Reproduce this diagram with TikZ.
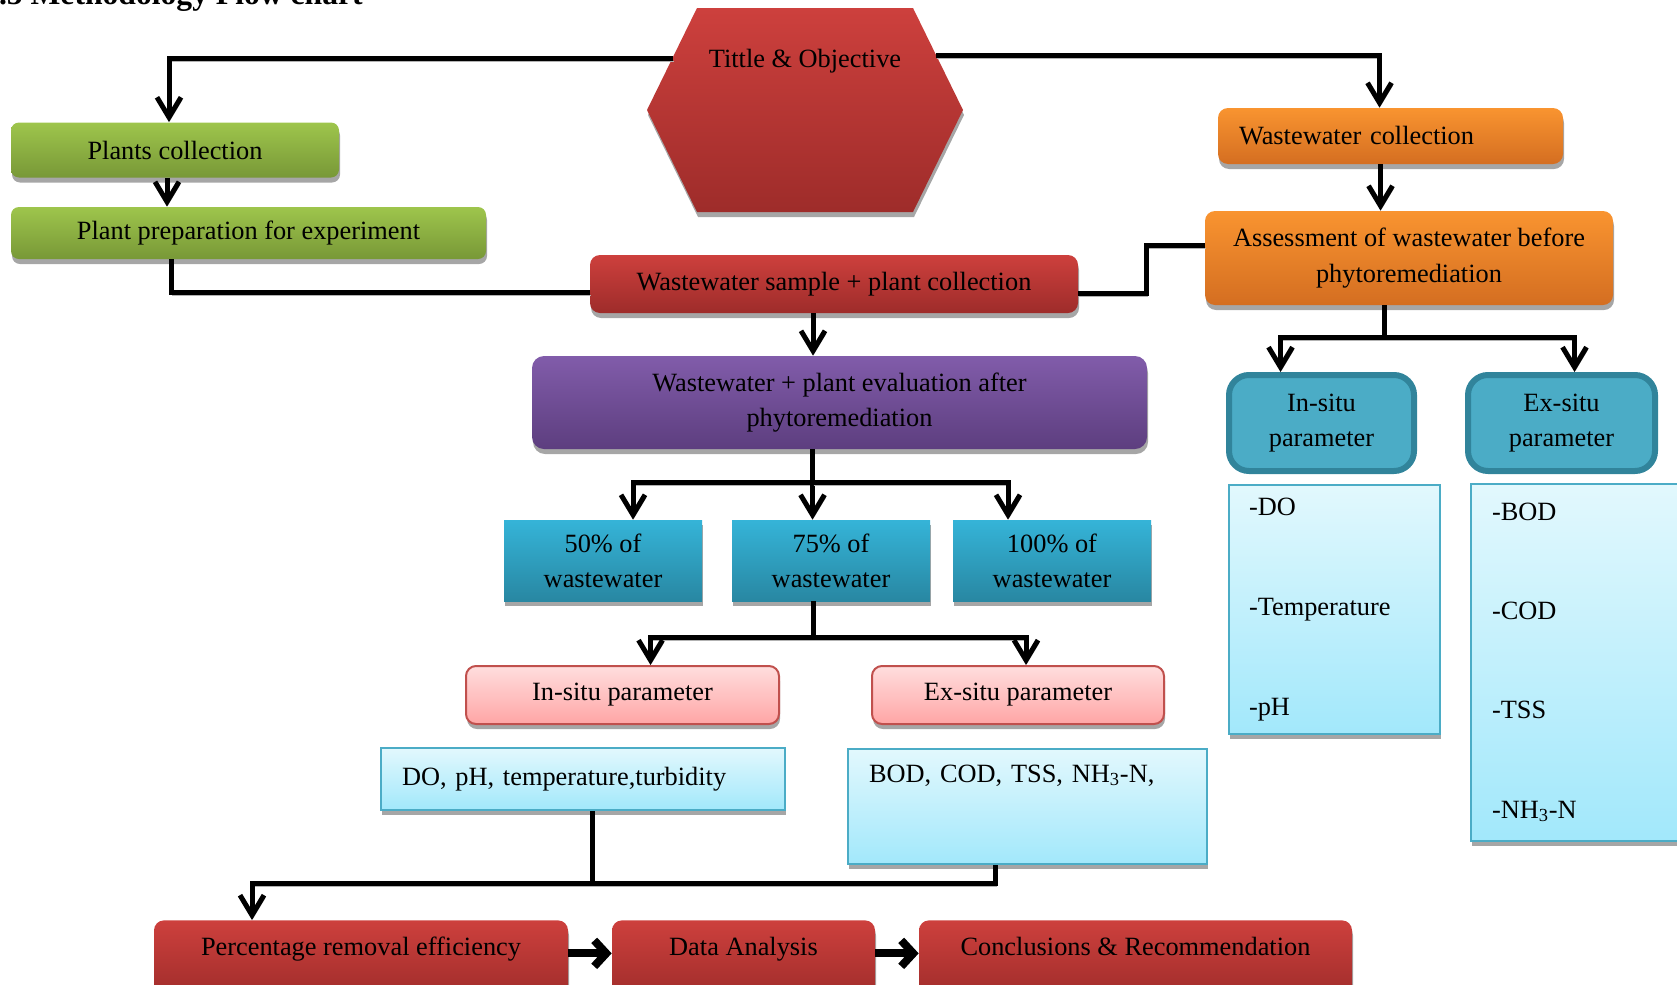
\documentclass[tikz,border=0pt]{standalone}
\usepackage{fontspec}
\setmainfont{Liberation Serif}
\usetikzlibrary{arrows.meta,shadows}

\newlength{\pxu}
\setlength{\pxu}{0.02cm}

\definecolor{grtop}{RGB}{158,197,76}
\definecolor{grbot}{RGB}{120,152,55}
\definecolor{redtop}{RGB}{205,64,61}
\definecolor{redbot}{RGB}{158,44,42}
\definecolor{ortop}{RGB}{249,148,48}
\definecolor{orbot}{RGB}{212,110,33}
\definecolor{putop}{RGB}{129,92,170}
\definecolor{pubot}{RGB}{93,62,127}
\definecolor{tetop}{RGB}{53,180,216}
\definecolor{tebot}{RGB}{40,135,162}
\definecolor{parfill}{RGB}{75,172,198}
\definecolor{parline}{RGB}{49,132,155}
\definecolor{pitop}{RGB}{255,222,222}
\definecolor{pibot}{RGB}{255,165,165}
\definecolor{piline}{RGB}{192,80,77}
\definecolor{lctop}{RGB}{226,248,253}
\definecolor{lcbot}{RGB}{162,232,251}
\definecolor{lcline}{RGB}{75,172,198}

\tikzset{
  txt/.style={font=\fontsize{15}{20}\selectfont, align=center, inner sep=0pt, text=black},
  basebox/.style={txt, drop shadow={shadow xshift=1\pxu, shadow yshift=-5\pxu, fill=black!35, opacity=1}},
  greenbox/.style={basebox, rounded corners=8\pxu, top color=grtop, bottom color=grbot},
  redbox/.style={basebox, rounded corners=10\pxu, top color=redtop, bottom color=redbot},
  orangebox/.style={basebox, rounded corners=10\pxu, top color=ortop, bottom color=orbot},
  purplebox/.style={basebox, rounded corners=12\pxu, top color=putop, bottom color=pubot},
  tealbox/.style={basebox, top color=tetop, bottom color=tebot},
  pinkbox/.style={basebox, rounded corners=10\pxu, top color=pitop, bottom color=pibot, draw=piline, line width=2\pxu},
  listbox/.style={basebox, top color=lctop, bottom color=lcbot, draw=lcline, line width=2\pxu},
  parambox/.style={txt, rounded corners=20\pxu, fill=parfill, draw=parline, line width=6\pxu},
  conn/.style={line width=5\pxu, black, preaction={draw=black!30, transform canvas={xshift=1\pxu, yshift=-3\pxu}}},
  flow/.style={conn, -{Straight Barb[length=4mm, width=4.8mm]}},
  bigflow/.style={line width=8\pxu, black, -{Straight Barb[length=2.4mm, width=5.2mm]}},
}

\begin{document}
\begin{tikzpicture}[x=1\pxu, y=-1\pxu]
\useasboundingbox (0,0) rectangle (1677,984);
\clip (0,0) rectangle (1677,984);

\node[font=\bfseries\fontsize{18}{22}\selectfont, anchor=base east, inner sep=0pt] (head) at (363,4) {3.5 Methodology Flow chart};

% hexagon
\path[top color=redtop, bottom color=redbot, drop shadow={shadow xshift=1\pxu, shadow yshift=-5\pxu, fill=black!35, opacity=1}]
  (697,8) -- (913,8) -- (963,110) -- (913,212) -- (697,212) -- (647,110) -- cycle;
\node[txt] (title) at (805,61) {Tittle \& Objective};
\coordinate (hexL) at (673,58);
\coordinate (hexR) at (936,55);

\node[greenbox, minimum width=328\pxu, minimum height=55\pxu] (plants) at (175,150) {Plants collection};
\node[greenbox, minimum width=475\pxu, minimum height=52\pxu] (prep) at (248.5,233) {Plant preparation for experiment};

\node[orangebox, minimum width=345\pxu, minimum height=56\pxu, text width=303\pxu, align=left] (wcoll) at (1390.5,136) {Wastewater collection};
\node[orangebox, minimum width=408\pxu, minimum height=94\pxu] (assess) at (1409,258) {Assessment of wastewater before\\phytoremediation};

\node[redbox, minimum width=488\pxu, minimum height=58\pxu] (sample) at (834,284) {Wastewater sample + plant collection};
\node[purplebox, minimum width=615\pxu, minimum height=93\pxu] (eval) at (839.5,402.5) {Wastewater + plant evaluation after\\phytoremediation};

\node[tealbox, minimum width=198\pxu, minimum height=81\pxu] (p50) at (603,560.5) {50\% of\\wastewater};
\node[tealbox, minimum width=198\pxu, minimum height=81\pxu] (p75) at (831,560.5) {75\% of\\wastewater};
\node[tealbox, minimum width=198\pxu, minimum height=81\pxu] (p100) at (1052,560.5) {100\% of\\wastewater};

\node[pinkbox, minimum width=313\pxu, minimum height=58\pxu] (insitu) at (622.5,695) {In-situ parameter};
\node[pinkbox, minimum width=292\pxu, minimum height=58\pxu] (exsitu) at (1018,695) {Ex-situ parameter};

\node[listbox, minimum width=404\pxu, minimum height=62\pxu, text width=362\pxu, align=left] (dolist) at (583,779) {DO, pH, temperature,turbidity};
\node[listbox, anchor=north, minimum width=359\pxu, text width=317\pxu, align=left, text height=33\pxu, text depth=82\pxu] (bodlist) at (1027.5,748) {BOD, COD, TSS, NH\textsubscript{3}-N,};

\node[parambox, minimum width=185\pxu, minimum height=96\pxu] (rin) at (1321.5,423) {In-situ\\parameter};
\node[parambox, minimum width=187\pxu, minimum height=96\pxu] (rex) at (1561.5,423) {Ex-situ\\parameter};
\node[listbox, minimum width=211\pxu, minimum height=249\pxu, text width=171\pxu, align=left] (rdo) at (1334.5,609.5) {-DO\\[36.9pt]-Temperature\\[36.9pt]-pH};
\node[listbox, minimum width=239\pxu, minimum height=357\pxu, text width=197\pxu, align=left] (rbod) at (1590.5,662.5) {-BOD\\[36.5pt]-COD\\[36.5pt]-TSS\\[36.5pt]-NH\textsubscript{3}-N};

\node[redbox, anchor=north, minimum width=414\pxu, text height=35\pxu, text depth=45\pxu] (pct) at (361,920) {Percentage removal efficiency};
\node[redbox, anchor=north, minimum width=263\pxu, text height=35\pxu, text depth=45\pxu] (data) at (743.5,920) {Data Analysis};
\node[redbox, anchor=north, minimum width=433\pxu, text height=35\pxu, text depth=45\pxu] (conc) at (1135.5,920) {Conclusions \& Recommendation};

% connectors
\draw[flow] (hexL) -| ([xshift=-6\pxu]plants.north);
\draw[flow] ([xshift=-8\pxu]plants.south) -- ([xshift=-8\pxu]plants.south |- prep.north);
\draw[conn] ([xshift=-4\pxu]plants.south |- prep.south) |- ([yshift=-8\pxu]sample.west);
\draw[flow] (hexR) -| ([xshift=-11\pxu]wcoll.north);
\draw[flow] ([xshift=-10\pxu]wcoll.south) -- ([xshift=-10\pxu]wcoll.south |- assess.north);
\draw[conn] ([yshift=13\pxu]assess.west) -- ++(-58,0) |- ([yshift=-9\pxu]sample.east);
\draw[flow] ([xshift=-21\pxu]sample.south) -- ([xshift=-21\pxu]sample.south |- eval.north);

\draw[conn] ([xshift=-27\pxu]eval.south) -- ++(0,33) coordinate (j1);
\draw[flow] (j1) -| ([xshift=30\pxu]p50.north);
\draw[flow] (j1) -- (j1 |- p75.north);
\draw[flow] (j1) -| ([xshift=-44\pxu]p100.north);

\draw[conn] ([xshift=-18\pxu]p75.south) -- ++(0,36) coordinate (j2);
\draw[flow] (j2) -| ([xshift=28\pxu]insitu.north);
\draw[flow] (j2) -| ([xshift=8\pxu]exsitu.north);

\draw[conn] ([xshift=9\pxu]dolist.south) -- ++(0,72) coordinate (j3);
\draw[flow] ([xshift=-32\pxu]bodlist.south) |- (j3) -| ([xshift=-109\pxu]pct.north);

\draw[conn] ([xshift=-25\pxu]assess.south) -- ++(0,32) coordinate (j4);
\draw[flow] (j4) -| ([xshift=-41\pxu]rin.north);
\draw[flow] (j4) -| ([xshift=13\pxu]rex.north);

\draw[bigflow] ([yshift=7\pxu]pct.east) -- ([yshift=7\pxu]data.west);
\draw[bigflow] ([yshift=7\pxu]data.east) -- ([yshift=7\pxu]conc.west);

\end{tikzpicture}
\end{document}
